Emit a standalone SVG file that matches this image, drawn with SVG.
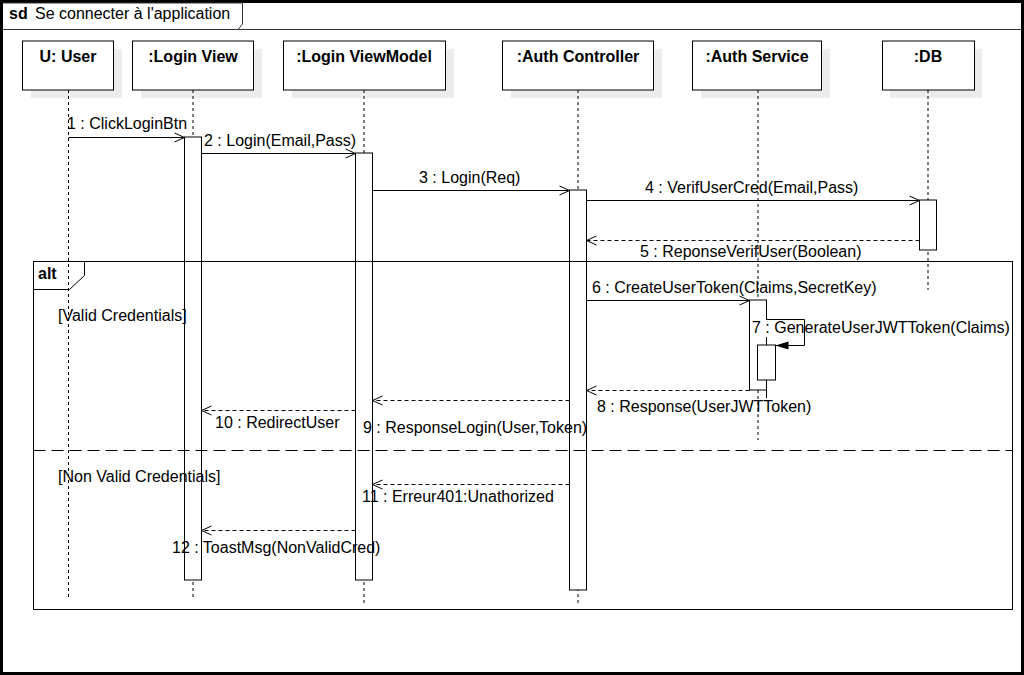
<svg xmlns="http://www.w3.org/2000/svg" width="1024" height="675" viewBox="0 0 1024 675">
<defs>
<marker id="open" viewBox="0 0 12 12" refX="11" refY="6" markerWidth="12" markerHeight="12" orient="auto" markerUnits="userSpaceOnUse"><path d="M1,1.5 L11,6 L1,10.5" fill="none" stroke="#000" stroke-width="1"/></marker>
<marker id="filled" viewBox="0 0 14 10" refX="13" refY="5" markerWidth="14" markerHeight="10" orient="auto" markerUnits="userSpaceOnUse"><path d="M0,1 L13,5 L0,9 Z" fill="#000"/></marker>
</defs>
<style>
text{font-family:"Liberation Sans",Arial,sans-serif;font-size:16px;fill:#000}
.b{font-weight:bold}
.head{fill:#fff;stroke:#000;stroke-width:1}
.shadow{fill:#ececec;stroke:none}
.life{stroke:#000;stroke-width:1;stroke-dasharray:3 3;fill:none}
.act{fill:#fff;stroke:#000;stroke-width:1}
.msg{stroke:#000;stroke-width:1;fill:none;marker-end:url(#open)}
.ret{stroke:#000;stroke-width:1;fill:none;stroke-dasharray:4 3;marker-end:url(#open)}
.frame{fill:none;stroke:#000;stroke-width:1}
</style>
<rect x="0" y="0" width="1024" height="675" fill="#000"/>
<rect x="3" y="3" width="1018" height="669" fill="#fff"/>
<g id="sd-frame">
<line x1="3" y1="29.5" x2="1021" y2="29.5" stroke="#333" stroke-width="1"/>
<path d="M3,3 H242.5 V24 L238,29.5" fill="none" stroke="#333" stroke-width="1"/>
<text x="9" y="19" class="b">sd</text>
<text x="35" y="19">Se connecter à l'application</text>
</g>
<g id="lifeline-user">
<rect class="shadow" x="31" y="49" width="91" height="49"/>
<rect class="head" x="22.5" y="41" width="91" height="49"/>
<text x="68" y="62" class="b" text-anchor="middle">U: User</text>
<line class="life" x1="68.5" y1="90" x2="68.5" y2="598"/>
</g>
<g id="lifeline-loginview">
<rect class="shadow" x="141" y="49" width="121" height="49"/>
<rect class="head" x="132.5" y="41" width="121" height="49"/>
<text x="193" y="62" class="b" text-anchor="middle">:Login View</text>
<line class="life" x1="193" y1="90" x2="193" y2="598"/>
<rect class="act" x="184.5" y="137" width="17" height="443"/>
</g>
<g id="lifeline-loginviewmodel">
<rect class="shadow" x="292" y="49" width="162" height="49"/>
<rect class="head" x="283.5" y="41" width="162" height="49"/>
<text x="364" y="62" class="b" text-anchor="middle">:Login ViewModel</text>
<line class="life" x1="364" y1="90" x2="364" y2="606"/>
<rect class="act" x="355.5" y="153" width="17" height="427"/>
</g>
<g id="lifeline-authcontroller">
<rect class="shadow" x="511" y="49" width="151" height="49"/>
<rect class="head" x="502.5" y="41" width="151" height="49"/>
<text x="578" y="62" class="b" text-anchor="middle">:Auth Controller</text>
<line class="life" x1="578" y1="90" x2="578" y2="606"/>
<rect class="act" x="569.5" y="190" width="17" height="400"/>
</g>
<g id="lifeline-authservice">
<rect class="shadow" x="701" y="49" width="129" height="49"/>
<rect class="head" x="692.5" y="41" width="129" height="49"/>
<text x="757" y="62" class="b" text-anchor="middle">:Auth Service</text>
<line class="life" x1="758" y1="90" x2="758" y2="440"/>
<rect class="act" x="749.5" y="300" width="17" height="90"/>
<rect x="752" y="320" width="262" height="17" fill="#fff"/>
<rect class="act" x="757.5" y="345" width="18" height="35"/>
<line x1="766.5" y1="380" x2="766.5" y2="398" stroke="#000" stroke-width="1"/>
</g>
<g id="lifeline-db">
<rect class="shadow" x="890" y="49" width="92" height="49"/>
<rect class="head" x="882.5" y="41" width="92" height="49"/>
<text x="928" y="62" class="b" text-anchor="middle">:DB</text>
<line class="life" x1="928" y1="90" x2="928" y2="290"/>
<rect class="act" x="919.5" y="200" width="17" height="50"/>
</g>
<g id="alt-fragment">
<rect class="frame" x="33.5" y="261.5" width="979" height="348"/>
<path d="M33.5,289.5 H69.5 L84.5,275.5 V261.5" class="frame"/>
<text x="38" y="279" class="b">alt</text>
<line x1="33.5" y1="450.5" x2="1012.5" y2="450.5" stroke="#000" stroke-width="1" stroke-dasharray="12 6"/>
<text x="58" y="321">[Valid Credentials]</text>
<text x="58" y="482">[Non Valid Credentials]</text>
</g>
<g id="connectors">
<line class="msg" x1="68.5" y1="137.5" x2="184.5" y2="137.5"/>
<line class="msg" x1="201.5" y1="153.5" x2="355.5" y2="153.5"/>
<line class="msg" x1="372.5" y1="190.5" x2="569.5" y2="190.5"/>
<line class="msg" x1="586.5" y1="200.5" x2="919.5" y2="200.5"/>
<line class="ret" x1="919.5" y1="240.5" x2="586.5" y2="240.5"/>
<line class="msg" x1="586.5" y1="300.5" x2="749.5" y2="300.5"/>
<path d="M766.5,319.5 H804.5 V345.5 H775.5" fill="none" stroke="#000" stroke-width="1" marker-end="url(#filled)"/>
<line class="ret" x1="749.5" y1="390.5" x2="586.5" y2="390.5"/>
<line class="ret" x1="569.5" y1="400.5" x2="372.5" y2="400.5"/>
<line class="ret" x1="355.5" y1="410.5" x2="201.5" y2="410.5"/>
<line class="ret" x1="569.5" y1="484.5" x2="372.5" y2="484.5"/>
<line class="ret" x1="355.5" y1="530.5" x2="201.5" y2="530.5"/>
</g>
<g id="labels">
<text x="67" y="129">1 : ClickLoginBtn</text>
<text x="204" y="146">2 : Login(Email,Pass)</text>
<text x="419" y="183">3 : Login(Req)</text>
<text x="645" y="193">4 : VerifUserCred(Email,Pass)</text>
<text x="640" y="257">5 : ReponseVerifUser(Boolean)</text>
<text x="592" y="293">6 : CreateUserToken(Claims,SecretKey)</text>
<text x="752" y="333">7 : GenerateUserJWTToken(Claims)</text>
<text x="597" y="412">8 : Response(UserJWTToken)</text>
<text x="363" y="433">9 : ResponseLogin(User,Token)</text>
<text x="215" y="428">10 : RedirectUser</text>
<text x="362" y="502">11 : Erreur401:Unathorized</text>
<text x="172" y="553">12 : ToastMsg(NonValidCred)</text>
</g>
</svg>
